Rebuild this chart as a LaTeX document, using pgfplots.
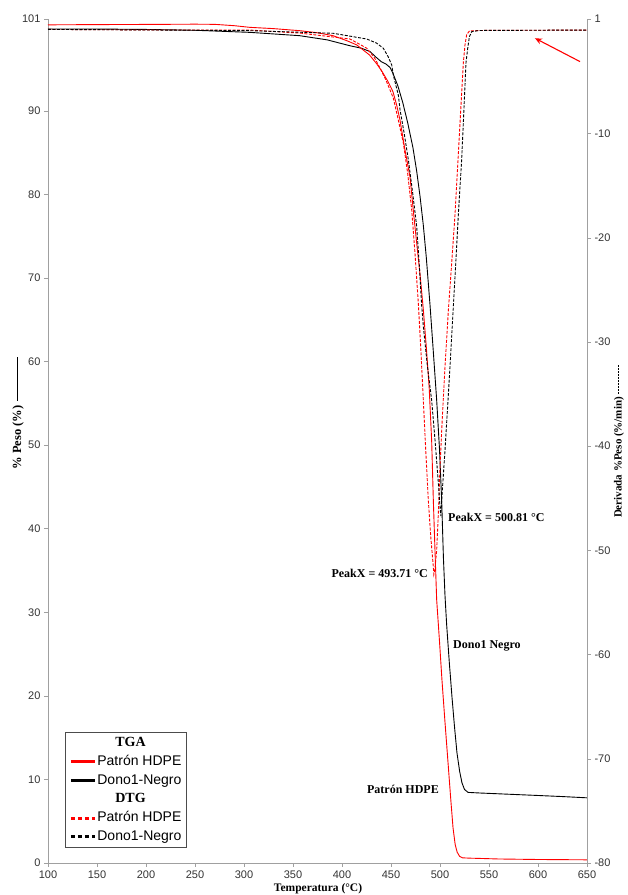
\documentclass[border=0pt]{standalone}
\usepackage{fontspec}
\setmainfont{Liberation Serif}
\setsansfont{Liberation Sans}
\usepackage{pgfplots}
\pgfplotsset{compat=1.18}
\usetikzlibrary{arrows.meta}
\definecolor{axgray}{RGB}{160,160,160}
\definecolor{myred}{RGB}{255,0,0}

\pgfplotsset{
  common/.style={
    scale only axis, width=539pt, height=844pt,
    xmin=100, xmax=650,
    axis line style={axgray, line width=0.8pt, -},
    tick align=outside, major tick length=4pt,
    tick style={axgray, line width=0.6pt},
    ticklabel style={font=\sffamily\fontsize{11}{12}\selectfont, text=black!80},
    /pgf/number format/assume math mode=true,
    label style={font=\rmfamily\bfseries\fontsize{11.5}{13}\selectfont},
  }
}

\begin{document}
\begin{tikzpicture}
\useasboundingbox (-48pt,-32pt) rectangle (580pt,863pt);
\begin{axis}[common,
  ymin=0, ymax=101,
  axis y line*=left, axis x line*=bottom,
  xtick={100,150,...,650}, ytick={0,10,...,90,101},
  xlabel={Temperatura (°C)},
  xlabel style={at={(rel axis cs:0.501,0)}, anchor=center, yshift=-26pt},
  ylabel={\fontsize{12.5}{14}\selectfont\% Peso (\%)\hspace{5pt}\rule[0.28em]{44pt}{0.8pt}},
  ylabel style={at={(rel axis cs:0,0.533)}, anchor=center, yshift=30pt},
  legend style={at={(0.0315,0.0178)}, anchor=south west, draw=black!70, line width=0.8pt,
    fill=white, font=\sffamily\fontsize{14}{16}\selectfont,
    inner xsep=4pt, inner ysep=3.5pt, row sep=4.3pt,
    nodes={inner xsep=1pt, inner ysep=0.5pt, text height=10.5pt, text depth=3pt}},
  legend cell align=left,
  legend image code/.code={\draw[#1] (0pt,0pt) -- (24pt,0pt);},
]
\addlegendimage{empty legend}
\addlegendentry{\hspace{18pt}\rmfamily\bfseries TGA}
\addlegendimage{myred, line width=3pt}
\addlegendentry{Patrón HDPE\hspace{9pt}}
\addlegendimage{black, line width=3pt}
\addlegendentry{Dono1-Negro}
\addlegendimage{empty legend}
\addlegendentry{\hspace{18pt}\rmfamily\bfseries DTG}
\addlegendimage{myred, line width=3pt, dash pattern=on 4pt off 3pt}
\addlegendentry{Patrón HDPE}
\addlegendimage{black, line width=3pt, dash pattern=on 4pt off 3pt}
\addlegendentry{Dono1-Negro}

% TGA Dono1-Negro
\addplot[black, line width=0.9pt, forget plot] table {
100 99.8
150 99.8
200 99.75
250 99.65
306 99.4
357 99.0
385 98.5
408 97.8
420 97.5
428.6 97.1
435 96.4
440 95.9
445 95.6
449 95.2
452 94.5
457 93.0
462 91.0
467 88.6
472.4 85.6
476.2 82.8
479.6 79.8
483 76.3
486 72.5
489.8 66.8
493 61.5
496.6 55.4
499.5 49.5
501.7 43.4
503.5 36.5
505.1 32.0
506.8 28.5
509.5 24.0
512.2 19.9
514.8 16.3
517.3 13.2
520 11.0
522.4 9.6
525 8.8
528.6 8.45
540 8.38
560 8.28
580 8.18
600 8.08
625 7.95
650 7.8
};
% TGA Patron HDPE
\addplot[myred, line width=0.9pt, forget plot] table {
100 100.3
150 100.33
200 100.35
250 100.38
270 100.36
290 100.2
306 100.0
330 99.85
357 99.6
375 99.35
391 99.0
405 98.4
415 97.9
428 96.7
435 95.7
441 94.7
447 93.5
452 92.3
456 90.6
459.2 88.9
464 85.5
469.4 82.1
473 77.8
476.2 74.2
480 70.0
483 66.2
486 61.8
489 56.8
491.5 50.5
493.2 43.4
495 37.0
496.6 31.5
499.5 26.5
502 21.9
505 17.0
508.2 12.0
511 7.6
513.3 4.2
515.5 2.2
517.5 1.3
520 0.8
523 0.62
530 0.58
540 0.55
560 0.48
600 0.42
650 0.38
};

\node[anchor=west, inner sep=0pt, font=\bfseries\fontsize{12}{14}\selectfont] at (axis cs:508.2,41.3) {PeakX = 500.81 °C};
\node[anchor=east, inner sep=0pt, font=\bfseries\fontsize{12}{14}\selectfont] at (axis cs:487.8,34.7) {PeakX = 493.71 °C};
\node[anchor=west, inner sep=0pt, font=\bfseries\fontsize{12}{14}\selectfont] at (axis cs:513.3,26.0) {Dono1 Negro};
\node[anchor=east, inner sep=0pt, font=\bfseries\fontsize{12}{14}\selectfont] at (axis cs:499,8.86) {Patrón HDPE};
\draw[myred, line width=1.1pt, -{Stealth[length=7pt, width=6pt]}] (axis cs:642.9,95.9) -- (axis cs:596.9,98.7);
\end{axis}

\begin{axis}[common,
  ymin=-80, ymax=1,
  axis y line*=right, axis x line=none,
  ytick={-80,-70,...,-10,1},
  ylabel={\fontsize{11}{13}\selectfont Derivada \%Peso (\%/min)\hspace{3pt}\hbox to 30pt{\xleaders\hbox to 3pt{\hss\rule[0.28em]{2pt}{0.6pt}\hss}\hfill}},
  ylabel style={at={(rel axis cs:1,0.5)}, anchor=center, yshift=-32pt},
]
% DTG Patron HDPE
\addplot[myred, line width=0.9pt, dash pattern=on 3pt off 1.5pt] table {
100 0.0
200 -0.05
306 -0.06
357 -0.35
408.2 -0.92
425.2 -1.8
433 -2.7
438.8 -3.7
445 -4.9
452.4 -6.6
457 -8.5
462.6 -10.9
467 -13.8
471.1 -17.3
474.5 -21.5
477.9 -26.3
480.5 -30.8
483 -35.6
485.5 -40.5
488.1 -45.2
490.5 -48.6
493.2 -51.6
493.71 -52.3
494.8 -51.8
496.6 -50.0
498.3 -46.5
500 -42.0
502.5 -37.0
505.1 -32.4
508.5 -27.0
511.5 -23.0
515.3 -17.8
518.7 -12.0
521 -8.0
523.8 -3.2
525.5 -1.5
527.2 -0.5
530 -0.15
540 -0.1
650 -0.06
};
% DTG Dono1-Negro
\addplot[black, line width=0.9pt, dash pattern=on 3pt off 1.5pt] table {
100 0.0
200 -0.05
306 -0.12
391 -0.37
425.2 -0.92
435 -1.3
442.1 -1.8
447 -2.6
450.7 -3.4
452.4 -4.4
457.5 -6.3
459.2 -7.7
463.5 -10.0
467.7 -12.5
472 -15.6
476.2 -18.9
479 -22.8
481.3 -26.5
483 -28.5
487 -32.2
491.5 -35.6
495 -39.5
498.3 -43.5
500 -45.8
500.81 -46.7
501.7 -45.2
505.1 -40.4
510.2 -32.4
513.8 -26.3
516.3 -22.1
518.7 -17.8
522.1 -12.5
523.8 -9.0
526.5 -3.2
528.3 -1.8
530 -0.7
532.3 -0.22
540 -0.1
650 -0.06
};
\end{axis}
\end{tikzpicture}
\end{document}
